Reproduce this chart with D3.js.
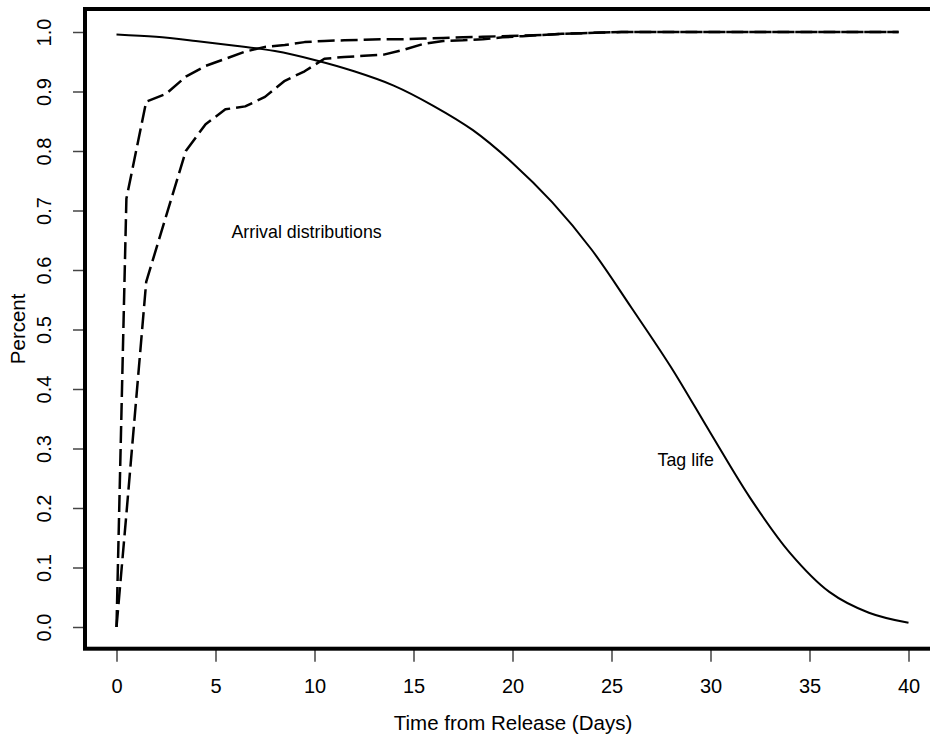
<!DOCTYPE html>
<html>
<head>
<meta charset="utf-8">
<script src="https://cdn.jsdelivr.net/npm/d3@7"></script>
<style>
  body { margin: 0; background: #fff; }
  svg { display: block; font-family: "Liberation Sans", Arial, sans-serif; }
</style>
</head>
<body>
<svg id="plot" width="930" height="738"></svg>
<script>
const svg = d3.select('#plot');

const width = parseFloat(svg.attr('width'));
const height = parseFloat(svg.attr('height'));

// Data

const tagDays = [0, 2, 4, 6, 8, 10, 12, 14, 16, 18, 20, 22, 24, 26, 28, 30, 32, 34, 36, 38, 40];
const tagLife = [0.996, 0.992, 0.985, 0.977, 0.968, 0.953, 0.934, 0.910, 0.876, 0.835, 0.780,
                 0.714, 0.634, 0.537, 0.437, 0.326, 0.217, 0.125, 0.059, 0.024, 0.007];

const arrivalDays = [0, 0.5, 1.5, 2.5, 3.5, 4.5, 5.5, 6.5, 7.5, 8.5, 9.5, 10.5, 11.5, 12.5, 13.5,
                     14.5, 15.5, 16.5, 17.5, 18.5, 19.5, 20.5, 21.5, 22.5, 23.5, 24.5, 25.5, 26.5,
                     27.5, 28.5, 29.5, 30.5, 31.5, 32.5, 33.5, 34.5, 35.5, 36.5, 37.5, 38.5, 39.5];
const arrivalFast = [0, 0.72, 0.883, 0.896, 0.925, 0.943, 0.955, 0.967, 0.975, 0.978, 0.983, 0.985,
                     0.986, 0.987, 0.988, 0.988, 0.989, 0.990, 0.991, 0.992, 0.993, 0.994, 0.995,
                     0.997, 0.998, 0.999, 1, 1, 1, 1, 1, 1, 1, 1, 1, 1, 1, 1, 1, 1, 1];
const arrivalSlow = [0, 0.19, 0.58, 0.69, 0.80, 0.845, 0.870, 0.875, 0.891, 0.918, 0.934, 0.955,
                     0.958, 0.960, 0.962, 0.970, 0.980, 0.985, 0.986, 0.988, 0.991, 0.993, 0.995,
                     0.997, 0.998, 0.999, 1, 1, 1, 1, 1, 1, 1, 1, 1, 1, 1, 1, 1, 1, 1];

const xTicks = [0, 5, 10, 15, 20, 25, 30, 35, 40];
const yTicks = [0, 0.1, 0.2, 0.3, 0.4, 0.5, 0.6, 0.7, 0.8, 0.9, 1.0];

const xLabel = 'Time from Release (Days)';
const yLabel = 'Percent';
const notes = [
    {text: 'Arrival distributions', x: 9.6, y: 0.665},
    {text: 'Tag life', x: 28.75, y: 0.281}
];

// Render

const render = () => {
    // plot box (right edge runs off the picture, like the original)
    const box = {left: 85, top: 9, right: 941, bottom: 648.7};

    const xScale = d3.scaleLinear()
        .domain([0, 40])
        .range([116.5, 908.5]);

    const yScale = d3.scaleLinear()
        .domain([0, 1])
        .range([627, 32]);

    const xAxis = d3.axisBottom(xScale)
        .tickValues(xTicks)
        .tickFormat(d3.format('d'))
        .tickSizeOuter(0)
        .tickSizeInner(13)
        .tickPadding(5);

    const yAxis = d3.axisLeft(yScale)
        .tickValues(yTicks)
        .tickFormat(d3.format('.1f'))
        .tickSizeOuter(0)
        .tickSizeInner(12);

    const xAxisG = svg.append('g')
        .attr('transform', `translate(0, ${box.bottom})`)
        .call(xAxis);
    xAxisG.select('.domain').remove();
    xAxisG.selectAll('line').attr('stroke', '#444').attr('stroke-width', 1.5);
    xAxisG.selectAll('text')
        .attr('fill', '#000')
        .attr('font-size', 20)
        .attr('font-family', '"Liberation Sans", Arial, sans-serif')
        .attr('dy', null)
        .attr('y', 44.5);

    const yAxisG = svg.append('g')
        .attr('transform', `translate(${box.left}, 0)`)
        .call(yAxis);
    yAxisG.select('.domain').remove();
    yAxisG.selectAll('line').attr('stroke', '#444').attr('stroke-width', 1.5);
    yAxisG.selectAll('text')
        .attr('fill', '#000')
        .attr('font-size', 20)
        .attr('font-family', '"Liberation Sans", Arial, sans-serif')
        .attr('x', null)
        .attr('dy', null)
        .attr('text-anchor', 'middle')
        .attr('transform', 'translate(-33.8, 0) rotate(-90)');

    svg.append('text')
        .attr('x', (box.left + box.right) / 2)
        .attr('y', 730)
        .attr('text-anchor', 'middle')
        .attr('font-size', 20.5)
        .text(xLabel);

    svg.append('text')
        .attr('transform', `translate(24.5, ${(box.top + box.bottom) / 2}) rotate(-90)`)
        .attr('text-anchor', 'middle')
        .attr('font-size', 20.5)
        .text(yLabel);

    // lines
    const lineGenerator = d3.line()
        .x(d => xScale(d[0]))
        .y(d => yScale(d[1]));

    const g = svg.append('g');

    g.append('path')
        .attr('d', lineGenerator.curve(d3.curveCatmullRom)(d3.zip(tagDays, tagLife)))
        .attr('fill', 'none')
        .attr('stroke', '#000')
        .attr('stroke-width', 2);

    [arrivalFast, arrivalSlow].forEach(series => {
        g.append('path')
            .attr('d', lineGenerator.curve(d3.curveLinear)(d3.zip(arrivalDays, series)))
            .attr('fill', 'none')
            .attr('stroke', '#000')
            .attr('stroke-width', 2.5)
            .attr('stroke-dasharray', '17,6')
            .attr('stroke-linejoin', 'round');
    });

    g.selectAll('.note').data(notes)
        .enter().append('text')
            .attr('class', 'note')
            .attr('x', d => xScale(d.x))
            .attr('y', d => yScale(d.y))
            .attr('dy', '0.35em')
            .attr('text-anchor', 'middle')
            .attr('font-size', 17.8)
            .attr('fill', '#000')
            .text(d => d.text);

    svg.append('rect')
        .attr('x', box.left)
        .attr('y', box.top)
        .attr('width', box.right - box.left)
        .attr('height', box.bottom - box.top)
        .attr('fill', 'none')
        .attr('stroke', '#000')
        .attr('stroke-width', 4);
};

render();
</script>
</body>
</html>
